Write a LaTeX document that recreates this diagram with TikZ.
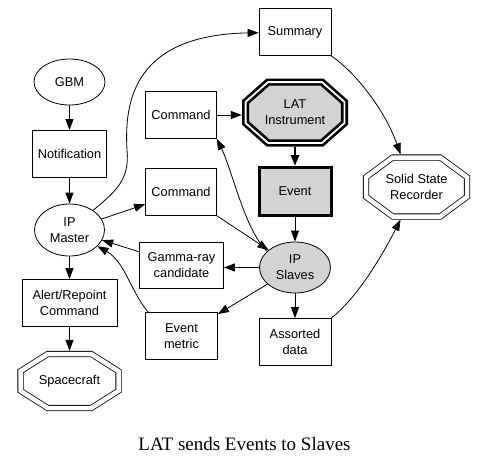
\documentclass[tikz,border=0pt]{standalone}
\usepackage{fontspec}
\setmainfont{Liberation Sans}
\newfontfamily\capfont{Liberation Serif}
\usetikzlibrary{arrows.meta,backgrounds,shapes.geometric}
\definecolor{lgray}{RGB}{211,211,211}
\begin{document}
\begin{tikzpicture}[x=1pt,y=-1pt,
  every node/.style={font=\fontsize{12.8}{16}\selectfont, align=center, inner sep=0pt},
  box/.style={draw, rectangle, line width=0.8pt},
  oval/.style={draw, ellipse, line width=0.8pt},
  octa/.style={rectangle},
  edge/.style={line width=0.8pt, -{Triangle[length=11pt,width=8pt]}},
  dbl/.style={draw, line width=0.8pt, double=white, double distance=4.5pt, line join=miter},
  bolddbl/.style={draw, fill=lgray, line width=2.7pt, double=white, double distance=1.8pt, line join=miter}]
\useasboundingbox (0,0) rectangle (487,467);

% nodes
\node[oval, minimum width=71pt, minimum height=46pt] (gbm) at (69.5,82) {GBM};
\node[box, minimum width=74pt, minimum height=47pt] (notif) at (69.5,154) {Notification};
\node[oval, minimum width=70pt, minimum height=52pt] (ipm) at (69.5,230) {IP\\Master};
\node[box, minimum width=95pt, minimum height=47pt] (alert) at (69.5,303) {Alert/Repoint\\Command};
\node[octa, minimum width=104pt, minimum height=60pt] (space) at (69.5,381) {Spacecraft};

\node[box, minimum width=71pt, minimum height=47pt] (cmd1) at (181,115) {Command};
\node[box, minimum width=71pt, minimum height=47pt] (cmd2) at (181,192) {Command};
\node[box, minimum width=84pt, minimum height=46pt] (gamma) at (181.5,265) {Gamma-ray\\candidate};
\node[box, minimum width=72pt, minimum height=47pt] (metric) at (181.5,336) {Event\\metric};

\node[box, minimum width=72pt, minimum height=47pt] (summary) at (295,32) {Summary};
\node[octa, minimum width=106pt, minimum height=68pt] (lat) at (295,112.5) {LAT\\Instrument};
\node[draw, rectangle, line width=3pt, fill=lgray, minimum width=72pt, minimum height=48pt] (event) at (295,191.5) {Event};
\node[oval, fill=lgray, minimum width=71pt, minimum height=51pt] (ips) at (295,267.5) {IP\\Slaves};
\node[box, minimum width=72pt, minimum height=47pt] (assorted) at (295,342) {Assorted\\data};
\node[octa, minimum width=107pt, minimum height=65pt] (ssr) at (416.5,187) {Solid State\\Recorder};

\node[font=\capfont\fontsize{19}{22}\selectfont, anchor=base] (cap) at (244.5,450.5) {LAT sends Events to Slaves};

% octagon outlines
\begin{pgfonlayer}{background}
\path[bolddbl, shift={(lat.center)}] (-27,-30.4) -- (27,-30.4) -- (49.4,-10.6) -- (49.4,10.6) -- (27,30.4) -- (-27,30.4) -- (-49.4,10.6) -- (-49.4,-10.6) -- cycle;
\path[dbl, shift={(ssr.center)}] (-23.8,-29.5) -- (23.8,-29.5) -- (50.5,-9.8) -- (50.5,9.8) -- (23.8,29.5) -- (-23.8,29.5) -- (-50.5,9.8) -- (-50.5,-9.8) -- cycle;
\path[dbl, shift={(space.center)}] (-21.8,-27) -- (21.8,-27) -- (49,-9.8) -- (49,9.8) -- (21.8,27) -- (-21.8,27) -- (-49,9.8) -- (-49,-9.8) -- cycle;
\end{pgfonlayer}

% edges
\draw[edge] (gbm) -- (notif);
\draw[edge] (notif) -- (ipm);
\draw[edge] (ipm) .. controls (115,192) and (130,180) .. (127,150) .. controls (124,100) and (135,35) .. (summary);
\draw[edge] (ipm) -- (cmd2);
\draw[edge] (cmd1.east) -- (cmd1.east -| lat.west);
\draw[edge, line width=2.7pt] (lat) -- (event);
\draw[edge] (event) -- (ips);
\draw[edge] (ips.150) .. controls (245,230) and (232,170) .. (cmd1.south east);
\draw[edge] (cmd2) -- (ips);
\draw[edge] (ips) -- (ips -| gamma.east);
\draw[edge] (gamma) -- (ipm);
\draw[edge] (ips) -- (metric);
\draw[edge] ([xshift=3pt]metric.north west) .. controls (130,290) and (125,262) .. (ipm);
\draw[edge] (ips) -- (assorted);
\draw[edge] (assorted.north east) .. controls (360,295) and (385,250) .. ([xshift=-16pt]ssr.south);
\draw[edge] (summary.south east) .. controls (355,72) and (385,110) .. ([xshift=-16pt]ssr.north);
\draw[edge] (ipm) -- (alert);
\draw[edge] (alert) -- (space);
\end{tikzpicture}
\end{document}
